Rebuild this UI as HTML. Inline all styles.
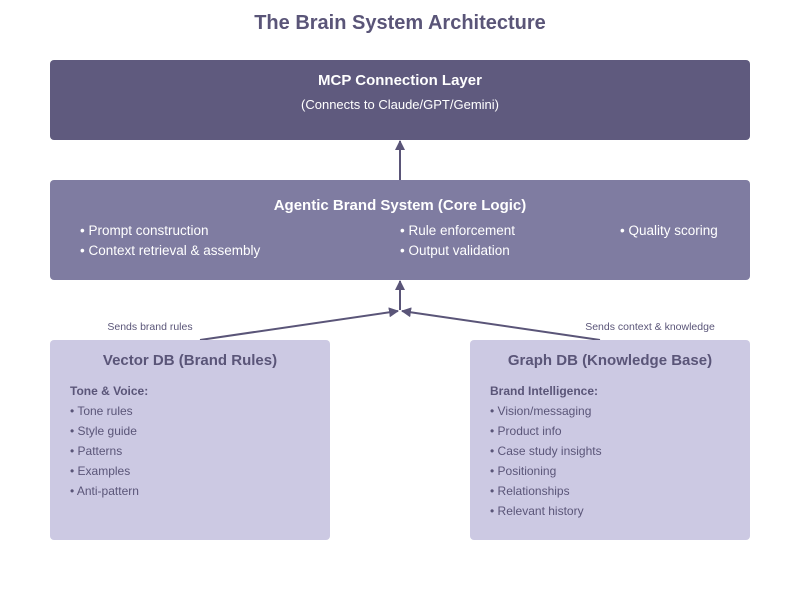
<!DOCTYPE html>
<html><head><meta charset="utf-8"><style>
body{margin:0;background:#fff;}
svg text{font-family:"Liberation Sans",Arial,sans-serif;}
</style></head><body>
<svg width="800" height="600" xmlns="http://www.w3.org/2000/svg">
<defs><marker id="a" markerWidth="10" markerHeight="10" refX="9" refY="5" orient="auto" markerUnits="userSpaceOnUse"><path d="M0,0 L10,5 L0,10 z" fill="#5a5578"/></marker></defs>
<text x="400" y="29" text-anchor="middle" font-size="20" font-weight="bold" fill="#5a5578">The Brain System Architecture</text>
<rect x="50" y="60" width="700" height="80" rx="4" fill="#5f5a7e"/>
<text x="400" y="85" text-anchor="middle" font-size="15" font-weight="bold" fill="#fff">MCP Connection Layer</text>
<text x="400" y="109" text-anchor="middle" font-size="13" fill="#fff">(Connects to Claude/GPT/Gemini)</text>
<rect x="50" y="180" width="700" height="100" rx="4" fill="#7f7ca1"/>
<text x="400" y="210" text-anchor="middle" font-size="15" font-weight="bold" fill="#fff">Agentic Brand System (Core Logic)</text>
<g font-size="13.5" fill="#fff">
<text x="80" y="235">• Prompt construction</text>
<text x="80" y="255">• Context retrieval &amp; assembly</text>
<text x="400" y="235">• Rule enforcement</text>
<text x="400" y="255">• Output validation</text>
<text x="620" y="235">• Quality scoring</text>
</g>
<line x1="400" y1="180" x2="400" y2="141" stroke="#5a5578" stroke-width="2" marker-end="url(#a)"/>
<line x1="400" y1="310" x2="400" y2="281" stroke="#5a5578" stroke-width="2" marker-end="url(#a)"/>
<line x1="200" y1="340" x2="398" y2="311" stroke="#5a5578" stroke-width="2" marker-end="url(#a)"/>
<line x1="600" y1="340" x2="402" y2="311" stroke="#5a5578" stroke-width="2" marker-end="url(#a)"/>
<text x="150" y="330" text-anchor="middle" font-size="10.5" fill="#5a5578">Sends brand rules</text>
<text x="650" y="330" text-anchor="middle" font-size="10.5" fill="#5a5578">Sends context &amp; knowledge</text>
<rect x="50" y="340" width="280" height="200" rx="4" fill="#ccc9e3"/>
<rect x="470" y="340" width="280" height="200" rx="4" fill="#ccc9e3"/>
<g fill="#5a5578">
<text x="190" y="365" text-anchor="middle" font-size="15" font-weight="bold">Vector DB (Brand Rules)</text>
<text x="70" y="395" font-size="12" font-weight="bold">Tone &amp; Voice:</text>
<g font-size="12">
<text x="70" y="415">• Tone rules</text>
<text x="70" y="435">• Style guide</text>
<text x="70" y="455">• Patterns</text>
<text x="70" y="475">• Examples</text>
<text x="70" y="495">• Anti-pattern</text>
</g>
<text x="610" y="365" text-anchor="middle" font-size="15" font-weight="bold">Graph DB (Knowledge Base)</text>
<text x="490" y="395" font-size="12" font-weight="bold">Brand Intelligence:</text>
<g font-size="12">
<text x="490" y="415">• Vision/messaging</text>
<text x="490" y="435">• Product info</text>
<text x="490" y="455">• Case study insights</text>
<text x="490" y="475">• Positioning</text>
<text x="490" y="495">• Relationships</text>
<text x="490" y="515">• Relevant history</text>
</g>
</g>
</svg>
</body></html>
